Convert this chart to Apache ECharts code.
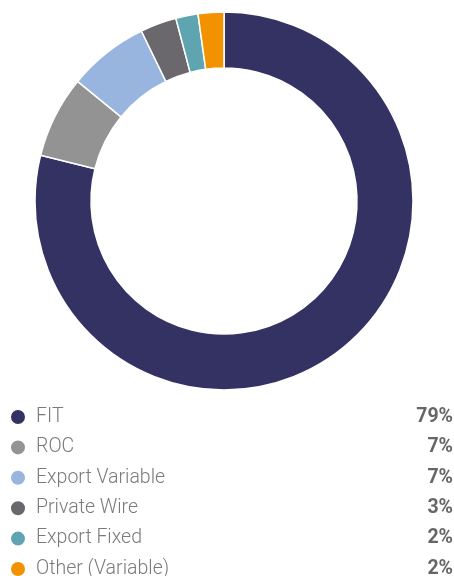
<!DOCTYPE html>
<html><head><meta charset="utf-8">
<script src="https://cdn.jsdelivr.net/npm/echarts@6/dist/echarts.min.js"></script>
<style>html,body{margin:0;padding:0;background:#fff}#c{width:454px;height:576px}</style>
</head><body><div id="c"></div>
<script>
const categories = ["FIT", "ROC", "Export Variable", "Private Wire", "Export Fixed", "Other (Variable)"];
const values = [78.9, 7.0, 6.9, 3.1, 1.9, 2.2];
const colors = ["#333263", "#939393", "#98b5e0", "#6a686c", "#5fa4b1", "#f39200"];
const total = values.reduce((a, b) => a + b, 0);
const pctOf = {};
categories.forEach((c, i) => { pctOf[c] = Math.round(values[i] / total * 100) + "%"; });

const chart = echarts.init(document.getElementById('c'), null, {renderer: 'canvas'});
chart.setOption({
  animation: false,
  color: colors,
  legend: {
    orient: 'vertical',
    left: 9,
    top: 407,
    height: 190,
    padding: 0,
    itemWidth: 16,
    itemHeight: 16,
    itemGap: 10.4,
    icon: 'circle',
    selectedMode: false,
    data: categories,
    formatter: name => '{n|' + name + '}{p|' + pctOf[name] + '}',
    textStyle: {
      padding: [0, 0, 0, 5],
      rich: {
        n: { width: 373, fontFamily: 'Roboto', fontWeight: 300, fontSize: 19.5, color: '#7a7a7a', lineHeight: 18 },
        p: { width: 44, align: 'right', fontFamily: 'Roboto', fontWeight: 'bold', fontSize: 19.5, color: '#666666', lineHeight: 18 }
      }
    }
  },
  series: [{
    type: 'pie',
    center: [224, 201],
    radius: [133, 189],
    startAngle: 90,
    clockwise: true,
    label: { show: false },
    labelLine: { show: false },
    itemStyle: { borderColor: '#fff', borderWidth: 1.5 },
    data: categories.map((c, i) => ({ name: c, value: values[i] }))
  }]
});
</script></body></html>
